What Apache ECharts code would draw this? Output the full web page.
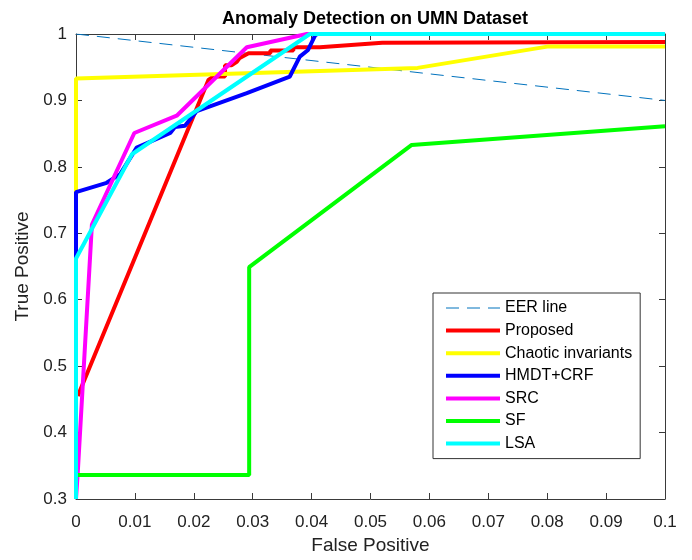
<!DOCTYPE html>
<html>
<head>
<meta charset="utf-8">
<script src="https://cdn.jsdelivr.net/npm/echarts@6/dist/echarts.min.js"></script>
<style>
  html, body { margin: 0; padding: 0; background: #fff; }
  #chart { width: 692px; height: 560px; }
</style>
</head>
<body>
<div id="chart"></div>
<script>
// ROC curves: [false positive rate, true positive rate]
const eerLine = [[0, 1.0], [0.1, 0.9]];
const proposed = [
  [0.0003, 0.455], [0.0225, 0.931], [0.0233, 0.936], [0.0253, 0.936],
  [0.0253, 0.953], [0.0264, 0.953], [0.0273, 0.958], [0.0278, 0.964],
  [0.0293, 0.971], [0.0330, 0.971], [0.0330, 0.975], [0.0369, 0.975],
  [0.0369, 0.980], [0.0414, 0.980], [0.0520, 0.987], [0.1, 0.988]
];
const chaotic = [
  [0, 0.3], [0, 0.933], [0.040, 0.944], [0.058, 0.949], [0.080, 0.981], [0.1, 0.981]
];
const hmdtCrf = [
  [0, 0.3], [0, 0.762], [0.0052, 0.776], [0.0075, 0.789], [0.0103, 0.829],
  [0.0160, 0.851], [0.0168, 0.860], [0.0185, 0.862], [0.0205, 0.884],
  [0.0290, 0.911], [0.0363, 0.936], [0.0380, 0.966], [0.0394, 0.976],
  [0.0406, 0.998], [0.0410, 1.0], [0.1, 1.0]
];
const src = [
  [0, 0.3], [0.0003, 0.34], [0.0027, 0.713], [0.0099, 0.851], [0.0171, 0.877],
  [0.0290, 0.980], [0.0392, 1.0], [0.1, 1.0]
];
const sf = [
  [0, 0.336], [0.0294, 0.336], [0.0294, 0.649], [0.0570, 0.833], [0.1, 0.861]
];
const lsa = [
  [0, 0.3], [0, 0.662], [0.0095, 0.819], [0.0397, 1.0], [0.1, 1.0]
];

const seriesNames = ['EER line', 'Proposed', 'Chaotic invariants', 'HMDT+CRF', 'SRC', 'SF', 'LSA'];
const seriesColors = ['#0072BD', '#FF0000', '#FFFF00', '#0000FF', '#FF00FF', '#00FF00', '#00FFFF'];
const seriesData = [eerLine, proposed, chaotic, hmdtCrf, src, sf, lsa];

const xTickLabels = ['0', '0.01', '0.02', '0.03', '0.04', '0.05', '0.06', '0.07', '0.08', '0.09', '0.1'];
const yTickLabels = ['0.3', '0.4', '0.5', '0.6', '0.7', '0.8', '0.9', '1'];

const FONT = '"Liberation Sans", Arial, Helvetica, sans-serif';
const frameColor = '#3a3a3a';

const chart = echarts.init(document.getElementById('chart'), null, { renderer: 'canvas' });

const frameAxisCommon = {
  type: 'value',
  axisLine: { show: true, onZero: false, lineStyle: { color: frameColor, width: 1 } },
  axisTick: { show: true, inside: true, length: 6, lineStyle: { color: frameColor } },
  splitLine: { show: false }
};

const lineStyleFor = i => (i === 0
  ? { color: seriesColors[i], width: 1, type: [13, 8] }
  : { color: seriesColors[i], width: 4 });

const series = seriesData.map((d, i) => ({
  name: seriesNames[i],
  type: 'line',
  data: d,
  symbol: 'none',
  animation: false,
  lineStyle: lineStyleFor(i),
  itemStyle: { color: seriesColors[i] },
  z: 2 + i
}));

// legend entries: plain line samples, no marker
const legendData = seriesNames.map((n, i) => ({
  name: n,
  itemStyle: { opacity: 0 },
  lineStyle: lineStyleFor(i)
}));

chart.setOption({
  backgroundColor: '#ffffff',
  animation: false,
  title: {
    text: 'Anomaly Detection on UMN Dataset',
    left: 370, top: 5, textAlign: 'center',
    textStyle: { fontFamily: FONT, fontSize: 18, fontWeight: 'bold', color: '#000' }
  },
  grid: { left: 76, right: 27, top: 34, bottom: 59, containLabel: false },
  legend: {
    orient: 'vertical',
    left: 433, top: 293,
    padding: [7, 8, 7, 11],
    itemWidth: 54, itemHeight: 14, itemGap: 6.6,
    backgroundColor: '#fff',
    borderColor: '#333', borderWidth: 1, borderRadius: 0,
    textStyle: { fontFamily: FONT, fontSize: 16, color: '#000' },
    data: legendData
  },
  xAxis: [
    Object.assign({}, frameAxisCommon, {
      position: 'bottom', min: 0, max: 0.1, interval: 0.01,
      name: 'False Positive', nameLocation: 'middle', nameGap: 37,
      nameTextStyle: { fontFamily: FONT, fontSize: 19, color: '#222' },
      axisLabel: {
        margin: 15, fontFamily: FONT, fontSize: 17, color: '#222',
        formatter: v => xTickLabels[Math.round(v / 0.01)]
      }
    }),
    Object.assign({}, frameAxisCommon, {
      position: 'top', min: 0, max: 0.1, interval: 0.01,
      axisLabel: { show: false }
    })
  ],
  yAxis: [
    Object.assign({}, frameAxisCommon, {
      position: 'left', min: 0.3, max: 1, interval: 0.1,
      name: 'True Positive', nameLocation: 'middle', nameGap: 39,
      nameTextStyle: { fontFamily: FONT, fontSize: 19, color: '#222' },
      axisLabel: {
        margin: 9, fontFamily: FONT, fontSize: 17, color: '#222',
        formatter: v => yTickLabels[Math.round(v * 10) - 3]
      }
    }),
    Object.assign({}, frameAxisCommon, {
      position: 'right', min: 0.3, max: 1, interval: 0.1,
      axisLabel: { show: false }
    })
  ],
  series: series
});
</script>
</body>
</html>
